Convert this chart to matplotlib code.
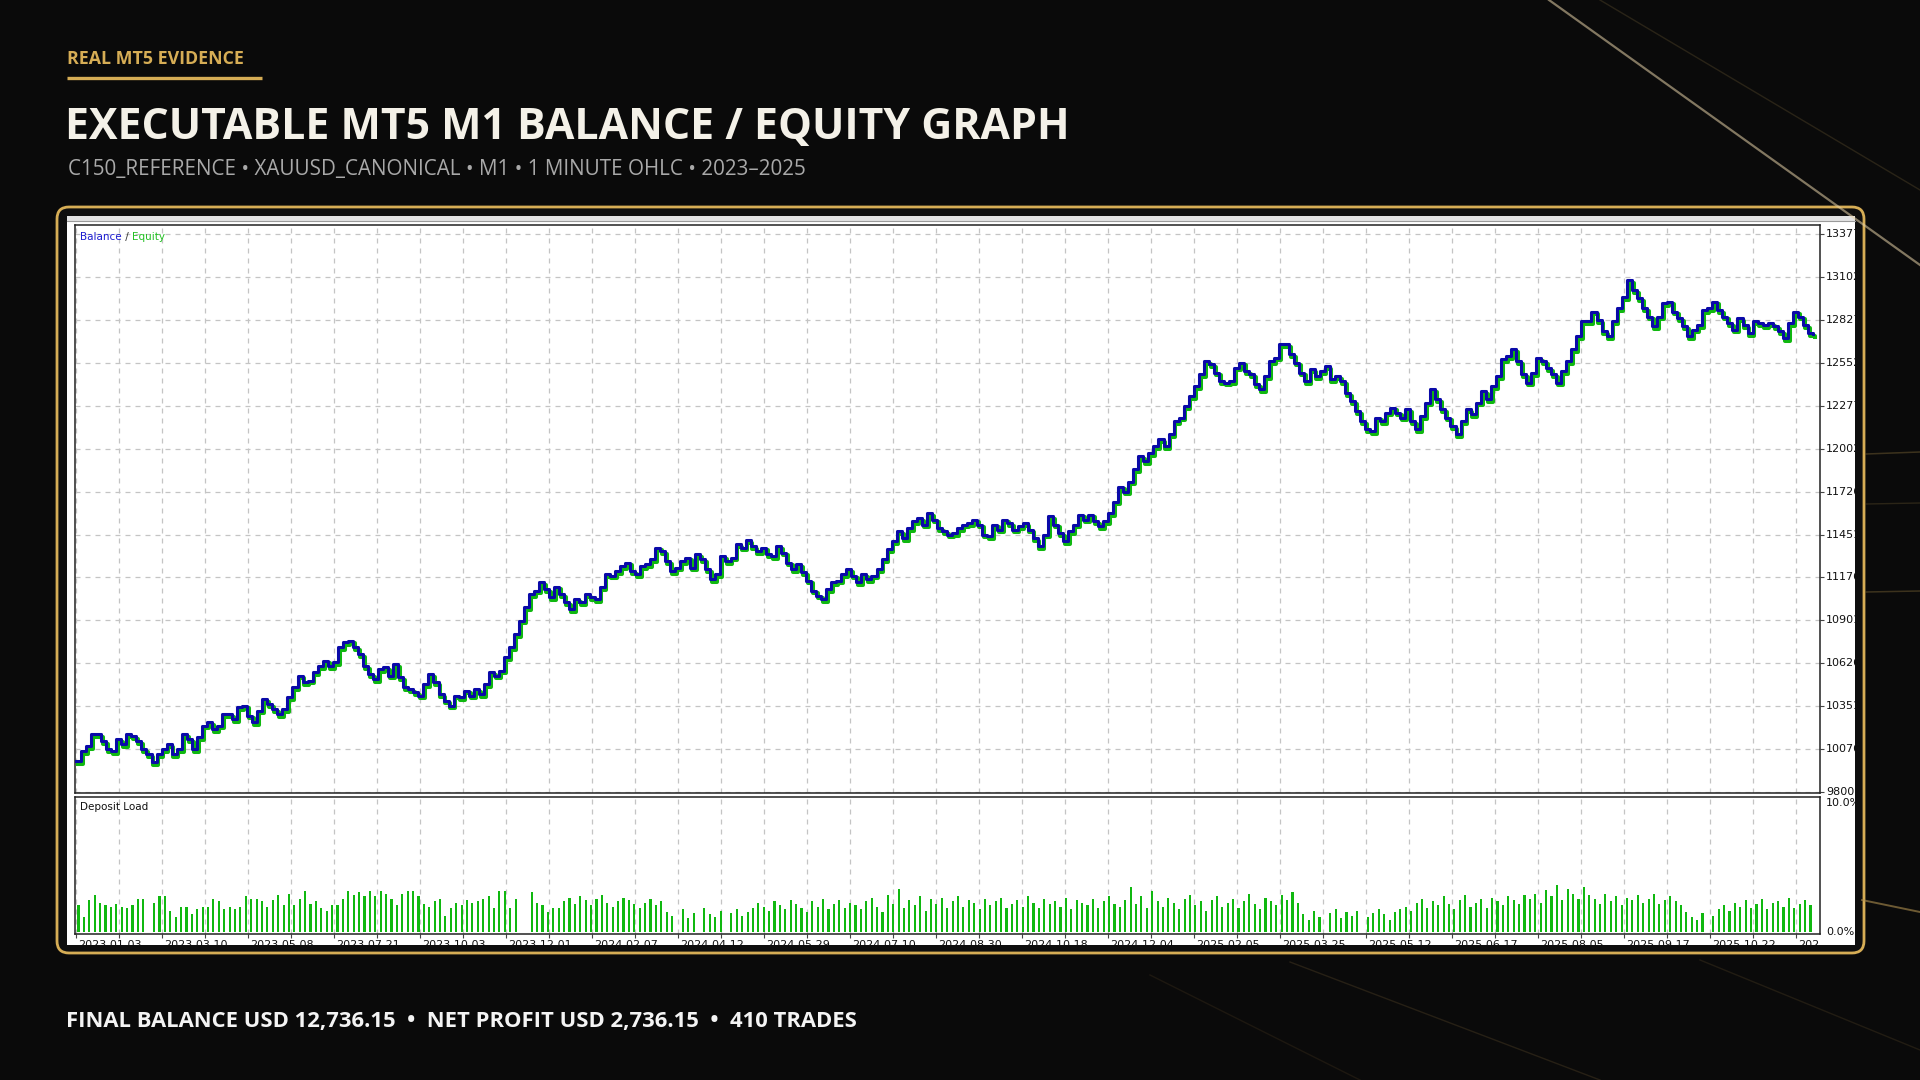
import numpy as np
import matplotlib.pyplot as plt
from matplotlib.patches import FancyBboxPatch, Rectangle
from matplotlib.transforms import Bbox, offset_copy, blended_transform_factory

W, H = 1920, 1080

# balance after each step (USD)
balance = [
    10000, 10065, 10097, 10172, 10172, 10129, 10076, 10065, 10140, 10108,
    10172, 10161, 10129, 10076, 10044, 9990, 10044, 10076, 10108, 10044,
    10076, 10172, 10140, 10076, 10151, 10226, 10247, 10204, 10226, 10300,
    10300, 10268, 10343, 10354, 10290, 10247, 10322, 10397, 10365, 10333,
    10300, 10333, 10407, 10472, 10546, 10504, 10514, 10568, 10610, 10643,
    10610, 10632, 10728, 10760, 10771, 10728, 10685, 10610, 10557, 10525,
    10589, 10600, 10546, 10621, 10536, 10472, 10461, 10440, 10418, 10493,
    10557, 10504, 10429, 10386, 10354, 10418, 10407, 10450, 10418, 10461,
    10429, 10493, 10568, 10546, 10578, 10664, 10728, 10814, 10899, 10985,
    11070, 11092, 11145, 11102, 11049,
    11117, 11070, 11017, 10975, 11038, 11017, 11070, 11049, 11038, 11112,
    11197, 11187, 11218, 11250, 11271, 11218, 11197, 11250, 11261, 11292,
    11367, 11345, 11282, 11218, 11239, 11282, 11303, 11239, 11324, 11292,
    11229, 11165, 11197, 11314, 11282, 11303, 11388, 11367, 11413, 11377,
    11345, 11367, 11324, 11314, 11377, 11335, 11271, 11229, 11261, 11208,
    11155, 11091, 11060, 11038, 11102, 11144, 11155, 11197, 11229, 11187,
    11144, 11197, 11165, 11187, 11229, 11292, 11356, 11409, 11472, 11430,
    11494, 11536, 11557, 11515, 11589, 11546, 11494, 11472, 11451,
    11462, 11494, 11515, 11525, 11546, 11515, 11451, 11441, 11515, 11483,
    11546, 11525, 11483, 11504, 11525, 11483, 11430, 11377, 11451, 11568,
    11515, 11462, 11409, 11472, 11515, 11578, 11546, 11578, 11536, 11504,
    11536, 11589, 11662, 11758, 11726, 11790,
    11868, 11954, 11922, 11975, 12018, 12061, 12018, 12093, 12179, 12200,
    12275, 12339, 12403, 12478, 12564, 12542, 12489, 12435, 12425, 12435,
    12521, 12553, 12500, 12478, 12414, 12382, 12467, 12564, 12585, 12671,
    12671, 12607, 12553, 12489, 12435, 12510, 12467, 12500, 12532, 12446,
    12467, 12435, 12360, 12307, 12243, 12179, 12125, 12114, 12200, 12179,
    12232, 12264, 12232, 12200, 12254, 12179, 12125, 12211, 12296, 12382,
    12318, 12254, 12200, 12146, 12093, 12179, 12254, 12222, 12296, 12371,
    12318, 12403, 12467, 12574, 12595, 12638, 12564, 12478,
    12425, 12488, 12584, 12563, 12520, 12478, 12425, 12499, 12563, 12637,
    12721, 12817, 12817, 12880, 12827, 12753, 12721, 12817, 12901, 12975,
    13081, 13018, 12965, 12901, 12848, 12785, 12848, 12933, 12944, 12880,
    12838, 12785, 12721, 12764, 12795, 12891, 12901, 12944, 12891, 12848,
    12806, 12764, 12838, 12795, 12743, 12817, 12806, 12795, 12806, 12785,
    12753, 12711, 12806, 12880, 12848, 12795, 12743, 12736.15,
]

# deposit load per bar (%), estimated from the lower panel
deposit_load = [
    2.1, 1.2, 2.5, 2.9, 2.3, 2.1, 2.0, 2.2, 2.0, 1.9, 2.1, 2.6, 2.6, 0, 2.3,
    2.8, 2.8, 1.7, 1.2, 2.0, 2.0, 1.4, 1.8, 2.0, 2.0, 2.6, 2.4, 1.8, 2.0, 1.8,
    2.0, 2.8, 2.6, 2.6, 2.4, 2.0, 2.5, 2.9, 2.1, 3.0, 2.1, 2.6, 3.2, 2.2, 2.4,
    1.9, 1.7, 2.1, 2.1, 2.6, 3.2, 2.9, 3.1, 2.8, 3.2, 2.8, 3.2, 3.0, 2.6, 2.1,
    3.0, 3.2, 3.2, 2.8, 2.2, 2.0, 2.4, 2.6, 1.3, 1.9, 2.3, 2.1, 2.5, 2.3, 2.4,
    2.6, 2.8, 1.9, 3.2, 3.2, 1.9, 2.6, 0, 0, 3.1, 2.3, 2.1, 1.6, 1.9, 1.9,
    2.4, 2.7, 2.2, 2.8, 2.5, 2.1, 2.6, 2.9, 2.3, 2.0, 2.4, 2.7, 2.5, 2.2, 1.9,
    2.3, 2.6, 2.1, 2.4,
    1.6, 1.3, 0, 1.8, 1.1, 1.5, 0, 1.9, 1.4, 1.2, 1.7, 0, 1.5, 1.8, 1.3, 1.6, 1.9,
    2.3, 2.0, 1.7, 2.4, 2.1, 1.8, 2.5, 2.2, 1.9, 1.6, 2.4, 2.0, 2.6, 1.8, 2.2,
    2.5, 1.9, 2.3, 2.1,
    1.8, 2.4, 2.7, 2.0, 1.6, 2.9, 2.2, 3.4, 1.9, 2.5, 2.1, 2.8, 1.7, 2.6,
    2.2, 2.7, 1.9, 2.4, 2.8, 2.0, 2.5, 2.3, 1.8, 2.6, 2.1, 2.4, 2.7, 1.9, 2.2,
    2.5, 2.0, 2.8, 2.3, 1.9, 2.6, 2.2, 2.4, 2.0, 2.7, 1.8, 2.5, 2.3, 2.1, 2.6,
    1.9, 2.4, 2.8, 2.2, 2.0, 2.5,
    3.5, 2.2, 2.8, 1.9, 3.2, 2.4, 2.0, 2.7, 2.3, 1.8, 2.6, 2.9, 2.1, 2.4, 1.7,
    2.5, 2.8, 2.0, 2.3, 2.6, 1.9, 2.4, 3.0, 2.2, 1.8, 2.7, 2.4, 2.1, 2.9, 2.5,
    3.1, 2.3,
    1.4, 1.0, 1.7, 1.2, 0, 1.5, 1.8, 1.1, 1.6, 1.3, 1.7, 0, 1.2, 1.5, 1.8, 1.4,
    1.0, 1.6, 1.8,
    2.0, 1.7, 2.3, 2.6, 1.9, 2.4, 2.1, 2.8, 2.2, 1.8, 2.5, 2.9, 2.0, 2.3, 2.6,
    1.9, 2.7, 2.4, 2.1, 2.8, 2.5, 2.2, 2.9, 2.6, 3.0, 2.3,
    3.3, 2.8, 3.7, 2.5, 3.4, 3.0, 2.6, 3.5, 2.9,
    2.6, 2.2, 3.0, 2.4, 2.8, 2.1, 2.7, 2.5, 2.9, 2.3, 2.6, 3.0, 2.2, 2.5, 2.8,
    2.4, 2.1,
    1.6, 1.2, 1.0, 1.5, 0, 1.3,
    1.8, 2.1, 1.7, 2.3, 2.0, 2.5, 1.9, 2.2, 2.6, 1.8, 2.3, 2.4, 2.0, 2.7, 1.9,
    2.2, 2.5, 2.1,
]

n_deals = 410
y_ticks = [9800, 10076, 10351, 10626, 10901, 11176, 11451, 11726, 12002,
           12277, 12552, 12827, 13102, 13377]
date_labels = ['2023.01.03', '2023.03.10', '2023.05.08', '2023.07.21',
               '2023.10.03', '2023.12.01', '2024.02.07', '2024.04.12',
               '2024.05.29', '2024.07.10', '2024.08.30', '2024.10.18',
               '2024.12.04', '2025.02.05', '2025.03.25', '2025.05.12',
               '2025.06.17', '2025.08.05', '2025.09.17', '2025.10.22',
               '2025.11.28']

GOLD = '#d6ad55'
BLUE = '#0a0aa8'
GREEN = '#10b810'


def fig_rect(x0, y0, x1, y1):
    # pixel box (top-left origin) -> figure fraction
    return [x0 / W, 1 - y1 / H, (x1 - x0) / W, (y1 - y0) / H]


def clip_px(x0, y0, x1, y1):
    return Bbox.from_extents(x0, H - y1, x1, H - y0)


fig = plt.figure(figsize=(19.2, 10.8), dpi=100, facecolor='#0a0a0a')

# background layer in pixel units
bg = fig.add_axes([0, 0, 1, 1], zorder=0)
bg.set_xlim(0, W)
bg.set_ylim(H, 0)
bg.axis('off')

# decorative gold light streaks
bg.plot([1549, 1920], [0, 265], color='#e6d2a8', lw=1.6, alpha=0.55)
bg.plot([1600, 1920], [0, 190], color='#a88a4e', lw=1, alpha=0.2)
bg.plot([1866, 1920], [454, 452], color='#7a6535', lw=1.1, alpha=0.45)
bg.plot([1866, 1920], [504, 503], color='#6a5830', lw=1, alpha=0.35)
bg.plot([1866, 1920], [592, 591], color='#7a6535', lw=1.1, alpha=0.45)
bg.plot([1862, 1920], [900, 912], color='#b09050', lw=1.4, alpha=0.6)
bg.plot([1290, 1600], [962, 1080], color='#6a5430', lw=1, alpha=0.3)
bg.plot([1150, 1360], [975, 1080], color='#4a3a22', lw=1, alpha=0.3)
bg.plot([1700, 1920], [960, 1050], color='#5a4828', lw=1, alpha=0.3)

# headline block
bg.text(67, 59, 'REAL MT5 EVIDENCE', color=GOLD, fontsize=12.8,
        fontweight='bold', family='Open Sans', va='center', ha='left')
bg.plot([67, 262], [78, 78], color=GOLD, lw=2.4, solid_capstyle='butt')
bg.text(65, 127, 'EXECUTABLE MT5 M1 BALANCE / EQUITY GRAPH', color='#f4f1e8',
        fontsize=30.8, fontweight='bold', family='Open Sans', va='center', ha='left')
bg.text(68, 169, 'C150_REFERENCE \u2022 XAUUSD_CANONICAL \u2022 M1 \u2022 1 MINUTE OHLC \u2022 2023\u20132025',
        color='#a9a9a9', fontsize=14.9, family='Open Sans', va='center', ha='left')
bg.text(66, 1021, 'FINAL BALANCE USD 12,736.15  \u2022  NET PROFIT USD 2,736.15  \u2022  410 TRADES',
        color='#f4f4f4', fontsize=15.8, fontweight='bold', family='Open Sans',
        va='center', ha='left')

# gold frame with the MT5 screenshot panel inside
bg.add_patch(FancyBboxPatch((57, 207), 1807, 746, boxstyle='round,pad=0,rounding_size=12',
                            facecolor='#0e0e0e', edgecolor=GOLD, lw=2))
bg.add_patch(Rectangle((67, 216), 1788, 729, facecolor='white', edgecolor='none'))
bg.add_patch(Rectangle((67, 216), 1788, 5, facecolor='#e2e2e2', edgecolor='none'))
bg.plot([67, 1855], [221, 221], color='#9a9a9a', lw=0.8)

# main balance / equity axes
ax = fig.add_axes(fig_rect(75, 225, 1820, 793), zorder=2)
ax2 = fig.add_axes(fig_rect(75, 797, 1820, 934), zorder=2)

px_per_deal = (1813 - 76) / n_deals
xlim = ((75 - 76) / px_per_deal, (1820 - 76) / px_per_deal)
grid_x = np.arange(41) * (43 / px_per_deal)
label_x = grid_x[::2]

x_bal = np.linspace(0, n_deals, len(balance))
eq_tr = offset_copy(ax.transData, fig=fig, x=1.8, y=-2.8, units='dots')
ax.plot(x_bal, balance, drawstyle='steps-post', color=GREEN, lw=2.9,
        transform=eq_tr, zorder=3)
ax.plot(x_bal, balance, drawstyle='steps-post', color=BLUE, lw=2.2, zorder=4)

ax.set_xlim(*xlim)
ax.set_ylim(9794, 13435)
ax.set_xticks(grid_x)
ax.set_yticks(y_ticks)
ax.grid(True, color='#c4c4c4', linestyle=(0, (4, 4)), lw=0.9)
ax.tick_params(axis='x', bottom=False, labelbottom=False)
ax.tick_params(axis='y', left=False, labelleft=False, right=True,
               direction='out', length=3, color='#444444')
for s in ax.spines.values():
    s.set_color('#222222')
    s.set_linewidth(1.1)

ytr = blended_transform_factory(ax.transAxes, ax.transData)
for v in y_ticks:
    t = ax.text(1.0035, v, str(v), transform=ytr, fontsize=8, color='#111111',
                va='center', ha='left', family='DejaVu Sans')
    t.set_clip_box(clip_px(67, 216, 1855, 945))

# legend text
t1 = ax.text(0.003, 0.978, 'Balance', transform=ax.transAxes, color='#1a1ad0',
             fontsize=7.5, va='center', ha='left')
t2 = ax.annotate(' / ', xy=(1, 0), xycoords=t1, color='#333333', fontsize=7.5,
                 va='bottom', ha='left')
ax.annotate('Equity', xy=(1, 0), xycoords=t2, color='#22c022', fontsize=7.5,
            va='bottom', ha='left')

# deposit load panel
x_load = np.linspace(0.6, n_deals - 0.6, len(deposit_load))
ax2.bar(x_load, deposit_load, width=0.5, color=GREEN, edgecolor='none', zorder=3)
ax2.set_xlim(*xlim)
ax2.set_ylim(-0.12, 10.5)
ax2.set_xticks(grid_x)
ax2.set_yticks([])
ax2.grid(True, axis='x', color='#c4c4c4', linestyle=(0, (4, 4)), lw=0.9)
ax2.tick_params(axis='x', labelbottom=False, direction='out', length=3,
                color='#444444')
for s in ax2.spines.values():
    s.set_color('#222222')
    s.set_linewidth(1.1)
ax2.text(0.003, 0.93, 'Deposit Load', transform=ax2.transAxes, color='#111111',
         fontsize=7.5, va='center', ha='left')

ytr2 = blended_transform_factory(ax2.transAxes, ax2.transData)
for v, s in [(10, '10.0%'), (0, '0.0%')]:
    t = ax2.text(1.0035, v, s, transform=ytr2, fontsize=8, color='#111111',
                 va='center', ha='left')
    t.set_clip_box(clip_px(67, 216, 1855, 945))

xtr = blended_transform_factory(ax2.transData, ax2.transAxes)
for x, lab in zip(label_x, date_labels):
    t = ax2.text(x + 0.6, -0.045, lab, transform=xtr, fontsize=8, color='#111111',
                 va='top', ha='left', clip_on=True)
    t.set_clip_box(clip_px(67, 216, 1820, 945))

fig.savefig('out.png', dpi=100, facecolor=fig.get_facecolor())
